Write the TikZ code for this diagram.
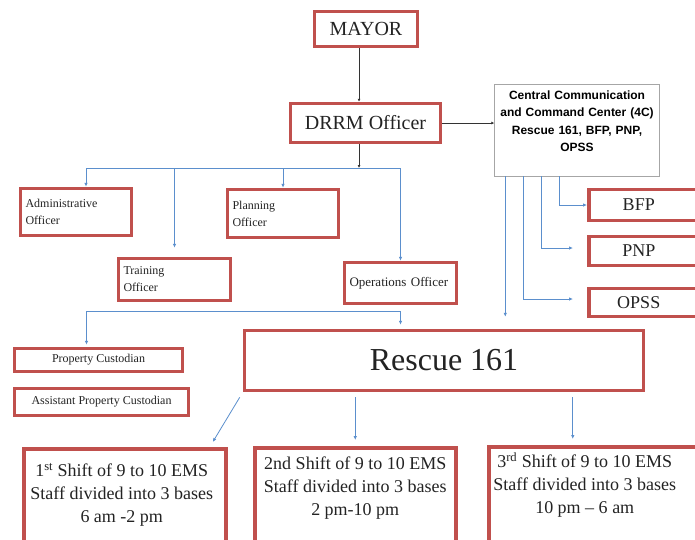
\documentclass[tikz,border=0pt]{standalone}
\usepackage{fontspec}
\setmainfont{Liberation Serif}
\setsansfont{Liberation Sans}
\usetikzlibrary{arrows.meta}

\definecolor{boxred}{RGB}{192,80,77}
\definecolor{linkblue}{RGB}{91,143,205}
\definecolor{inkgray}{RGB}{35,35,35}
\newcommand{\fsz}[2]{\fontsize{#1}{#2}\selectfont}

\tikzset{
  redbox/.style={draw=boxred, line width=3.5pt, fill=white, text=inkgray, inner sep=0pt},
  officer/.style={align=left, inner xsep=5pt, font=\fsz{12}{17}},
  ccbox/.style={draw=gray!70, line width=0.8pt, fill=white, text=black, align=center, font=\sffamily\bfseries\fsz{12}{17.5}},
  tag/.style={text=inkgray, font=\fsz{18}{22}, xshift=-10pt},
  shifttext/.style={text=inkgray, align=center, font=\fsz{18}{23}},
  bline/.style={draw=linkblue, line width=0.8pt, -{Latex[length=4pt,width=3.5pt]}},
  kline/.style={draw=black!80, line width=0.7pt, -{Latex[length=3pt,width=3pt]}}
}

\begin{document}
\begin{tikzpicture}[x=1pt,y=-1pt]
  \fill[white] (0,0) rectangle (695,539);
  \clip (0,0) rectangle (695,539);

  % top of the chart
  \node[redbox, minimum width=103pt, minimum height=35pt, font=\fsz{20}{24}] (mayor) at (366,29) {MAYOR};
  \node[redbox, minimum width=150pt, minimum height=39pt, font=\fsz{20}{24}] (drrm) at (365.5,123) {DRRM Officer};
  \node[ccbox, minimum width=162pt, minimum height=92pt, text width=158pt] (cc) at (577,130)
    {Central Communication\\and Command Center (4C)\\Rescue 161, BFP, PNP,\\OPSS\\~};

  % officers
  \node[redbox, officer, minimum width=111pt, minimum height=47pt, text width=101pt] (admin) at (76,212) {Administrative\\Officer};
  \node[redbox, officer, minimum width=112pt, minimum height=42pt, text width=102pt] (training) at (174.5,279.5) {Training\\Officer};
  \node[redbox, officer, minimum width=111pt, minimum height=48pt, text width=101pt] (planning) at (283,213.5) {Planning\\Officer};
  \node[redbox, officer, minimum width=112pt, minimum height=41pt, text width=102pt, font=\fsz{13}{17}] (ops) at (400.5,283) {Operations Officer};

  \node[redbox, minimum width=168pt, minimum height=23pt, font=\fsz{12}{14}] (propc) at (98.5,360) {Property Custodian};
  \node[redbox, minimum width=174pt, minimum height=27pt, font=\fsz{12}{14}] (asstpc) at (101.5,402) {Assistant Property Custodian};
  \node[redbox, minimum width=399pt, minimum height=60pt, font=\fsz{32}{36}] (rescue) at (444,360.5) {Rescue 161};

  % agencies on the right
  \node[redbox, anchor=west, minimum width=120pt, minimum height=31pt, label={[tag]center:BFP}] (bfp) at (587,205) {};
  \node[redbox, anchor=west, minimum width=120pt, minimum height=29pt, label={[tag]center:PNP}] (pnp) at (587,251) {};
  \node[redbox, anchor=west, minimum width=120pt, minimum height=28pt, label={[tag]center:OPSS}] (opss) at (587,302.5) {};

  % shifts
  \node[redbox, anchor=north west, minimum width=202pt, minimum height=100pt,
    label={[shifttext, xshift=-3pt, yshift=4pt]center:1\textsuperscript{st} Shift of 9 to 10 EMS\\Staff divided into 3 bases\\6 am -2 pm}] (shift1) at (22,447) {};
  \node[redbox, anchor=north west, minimum width=201pt, minimum height=100pt,
    label={[shifttext, yshift=10pt]center:2nd Shift of 9 to 10 EMS\\Staff divided into 3 bases\\2 pm-10 pm}] (shift2) at (253,446) {};
  \node[redbox, anchor=north west, minimum width=226pt, minimum height=100pt,
    label={[shifttext, xshift=-17pt, yshift=12pt]center:3\textsuperscript{rd} Shift of 9 to 10 EMS\\Staff divided into 3 bases\\10 pm -- 6 am}] (shift3) at (487,445) {};

  % connectors
  \coordinate (hub) at (359,168);
  \draw[kline] (mayor.south -| hub) -- (drrm.north -| hub);
  \draw[kline] (drrm.south -| hub) -- (hub);
  \draw[kline] (drrm.east) -- (drrm.east -| cc.west);

  \draw[bline] (hub) -| ([xshift=10pt]admin.north);
  \draw[bline] (hub) -| ([yshift=9pt]training.north);
  \draw[bline] (hub) -| (planning.north);
  \draw[bline] (hub) -| (ops.north);

  \coordinate (opsfoot) at ([yshift=-6pt]ops.south);
  \draw[bline] (opsfoot) -| ([xshift=-12pt,yshift=2pt]propc.north);
  \draw[bline] (opsfoot) -- ([yshift=4pt]rescue.north -| opsfoot);

  \draw[bline] ([xshift=65pt]cc.south west) |- (bfp.west);
  \draw[bline] ([xshift=47pt]cc.south west) |- ([xshift=-14pt,yshift=3pt]pnp.west);
  \draw[bline] ([xshift=29pt]cc.south west) |- ([xshift=-14pt,yshift=3.5pt]opss.west);
  \draw[bline] ([xshift=11pt]cc.south west) -- ([xshift=11pt,yshift=12pt]rescue.north -| cc.south west);

  \draw[bline] ([xshift=-3pt,yshift=-5pt]rescue.south west) -- ([xshift=88pt,yshift=5pt]shift1.north);
  \draw[bline] ([yshift=-5pt]shift2.north |- rescue.south) -- ([yshift=6pt]shift2.north);
  \draw[bline] ([xshift=-29pt,yshift=-5pt]shift3.north |- rescue.south) -- ([xshift=-29pt,yshift=6pt]shift3.north);
\end{tikzpicture}
\end{document}
